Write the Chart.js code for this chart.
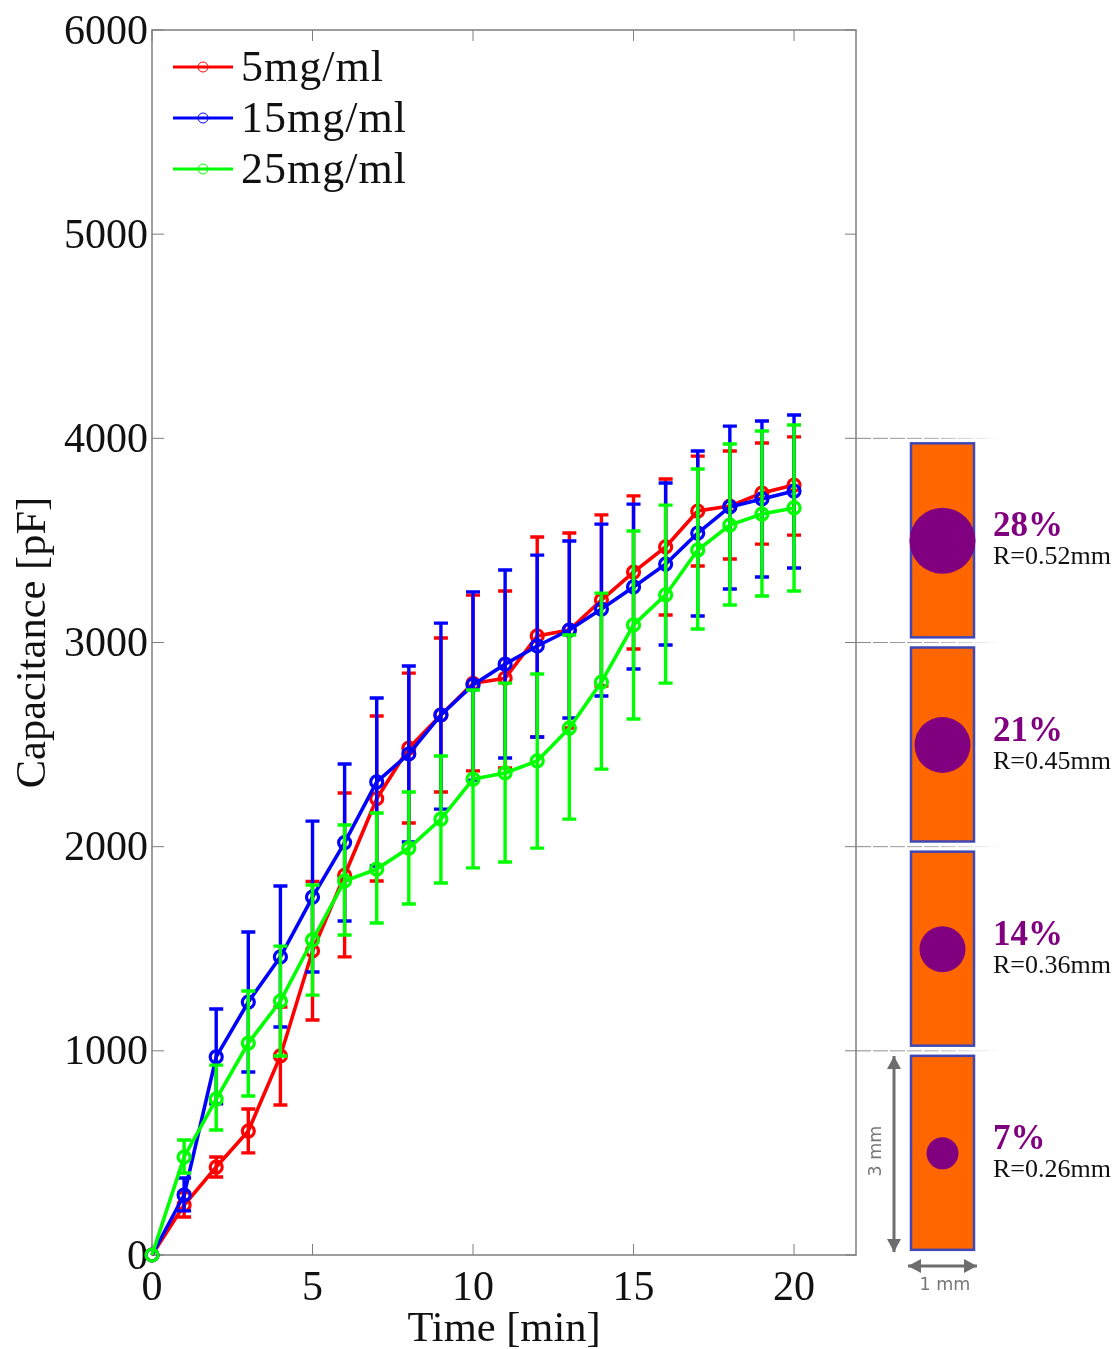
<!DOCTYPE html>
<html lang="en">
<head>
  <meta charset="UTF-8">
  <title>Capacitance vs time</title>
  <script src="https://cdn.jsdelivr.net/npm/chart.js"></script>
  <style>
    html, body { margin: 0; padding: 0; background: #fff; }
    #chart { display: block; }
  </style>
</head>
<body>
  <canvas id="chart" width="1112" height="1349"></canvas>

  <script>
    const times = [0, 1, 2, 3, 4, 5, 6, 7, 8, 9, 10, 11, 12, 13, 14, 15, 16, 17, 18, 19, 20];

    const seriesNames = ['5mg/ml', '15mg/ml', '25mg/ml'];
    const seriesColors = ['#ff0000', '#0000ff', '#00ff00'];

    const red = [0, 245, 431, 607, 975, 1489, 1860, 2235, 2483, 2645, 2800, 2825, 3032, 3061, 3208, 3345, 3468, 3644, 3668, 3732, 3771];
    const redUp = [0, 305, 480, 715, 1215, 1830, 2263, 2640, 2850, 3022, 3232, 3252, 3517, 3536, 3625, 3718, 3801, 3913, 3938, 3977, 4007];
    const redLow = [0, 186, 382, 500, 735, 1151, 1460, 1832, 2116, 2268, 2371, 2386, 2537, 2581, 2787, 2968, 3135, 3375, 3409, 3482, 3526];

    const blue = [0, 294, 970, 1239, 1460, 1753, 2020, 2317, 2454, 2645, 2792, 2894, 2983, 3061, 3164, 3272, 3384, 3536, 3664, 3703, 3742];
    const blueUp = [0, 377, 1205, 1582, 1807, 2125, 2405, 2728, 2885, 3095, 3248, 3355, 3428, 3497, 3580, 3678, 3781, 3938, 4060, 4085, 4114];
    const blueLow = [0, 216, 740, 896, 1117, 1386, 1636, 1905, 2023, 2184, 2326, 2434, 2537, 2630, 2738, 2870, 2988, 3130, 3262, 3321, 3365];

    const green = [0, 480, 764, 1038, 1244, 1543, 1832, 1890, 1993, 2135, 2331, 2361, 2420, 2581, 2806, 3086, 3233, 3453, 3575, 3629, 3659];
    const greenUp = [0, 563, 930, 1293, 1513, 1812, 2106, 2165, 2268, 2444, 2767, 2801, 2846, 3037, 3242, 3546, 3673, 3850, 3972, 4036, 4065];
    const greenLow = [0, 402, 612, 779, 975, 1273, 1567, 1626, 1719, 1822, 1896, 1925, 1993, 2135, 2380, 2625, 2801, 3066, 3184, 3228, 3252];

    const xTicks = [0, 5, 10, 15, 20];
    const yTicks = [0, 1000, 2000, 3000, 4000, 5000, 6000];

    // inset cells, bottom one first: value on the y axis they sit under
    const cellTops = [1000, 2000, 3000, 4000];
    const cellPercents = ['7%', '14%', '21%', '28%'];
    const cellRadii = ['R=0.26mm', 'R=0.36mm', 'R=0.45mm', 'R=0.52mm'];
    const cellDotSizes = [16, 23, 28, 33];

    const upper = [redUp, blueUp, greenUp];
    const lower = [redLow, blueLow, greenLow];
    const serif = "'Liberation Serif', serif";
    const ink = '#111111';
    const frameGray = '#7f7f7f';
    const arrowGray = '#6d6d6d';

    function points(values) {
      return values.map((v, i) => ({ x: times[i], y: v }));
    }

    function makeDataset(values, i) {
      return {
        label: seriesNames[i],
        data: points(values),
        borderColor: seriesColors[i],
        backgroundColor: 'transparent',
        borderWidth: 3.6,
        pointRadius: 6,
        pointBorderWidth: 3.2,
        pointBackgroundColor: 'transparent',
        pointBorderColor: seriesColors[i],
        tension: 0,
        clip: false,
        order: 3 - i
      };
    }

    // Error bars go in right after their own series so green stays on top
    const errorBars = {
      id: 'errorBars',
      afterDatasetDraw(chart, args) {
        const { ctx, scales } = chart;
        const i = args.index;
        ctx.save();
        ctx.strokeStyle = seriesColors[i];
        ctx.lineWidth = 3.4;
        times.forEach((t, k) => {
          if (t === 0) return;
          const x = scales.x.getPixelForValue(t);
          const top = scales.y.getPixelForValue(upper[i][k]);
          const bottom = scales.y.getPixelForValue(lower[i][k]);
          ctx.beginPath();
          ctx.moveTo(x, top);
          ctx.lineTo(x, bottom);
          ctx.moveTo(x - 7, top);
          ctx.lineTo(x + 7, top);
          ctx.moveTo(x - 7, bottom);
          ctx.lineTo(x + 7, bottom);
          ctx.stroke();
        });
        ctx.restore();
      }
    };

    // Box and inward ticks on all four sides
    const frame = {
      id: 'frame',
      beforeDatasetsDraw(chart) {
        const { ctx, chartArea: a, scales } = chart;
        ctx.save();
        ctx.strokeStyle = frameGray;
        ctx.lineWidth = 1.5;
        ctx.strokeRect(a.left, a.top, a.right - a.left, a.bottom - a.top);
        ctx.lineWidth = 1;
        ctx.beginPath();
        xTicks.forEach(t => {
          const x = scales.x.getPixelForValue(t);
          ctx.moveTo(x, a.bottom);
          ctx.lineTo(x, a.bottom - 11);
          ctx.moveTo(x, a.top);
          ctx.lineTo(x, a.top + 11);
        });
        yTicks.forEach(t => {
          const y = scales.y.getPixelForValue(t);
          ctx.moveTo(a.left, y);
          ctx.lineTo(a.left + 12, y);
          ctx.moveTo(a.right, y);
          ctx.lineTo(a.right - 11, y);
        });
        ctx.stroke();
        ctx.restore();
      }
    };

    const legendBox = {
      id: 'legendBox',
      afterDraw(chart) {
        const { ctx } = chart;
        ctx.save();
        ctx.font = '44px ' + serif;
        ctx.letterSpacing = '1px';
        ctx.fillStyle = ink;
        ctx.textAlign = 'left';
        ctx.textBaseline = 'alphabetic';
        seriesNames.forEach((name, i) => {
          const y = 67 + i * 51;
          ctx.strokeStyle = seriesColors[i];
          ctx.lineWidth = 3.2;
          ctx.beginPath();
          ctx.moveTo(173, y);
          ctx.lineTo(233, y);
          ctx.stroke();
          ctx.lineWidth = 1;
          ctx.beginPath();
          ctx.arc(203, y, 5, 0, Math.PI * 2);
          ctx.stroke();
          ctx.fillText(name, 241, y + 14);
        });
        ctx.restore();
      }
    };

    function drawArrow(ctx, x1, y1, x2, y2) {
      const ang = Math.atan2(y2 - y1, x2 - x1);
      ctx.beginPath();
      ctx.moveTo(x1, y1);
      ctx.lineTo(x2, y2);
      ctx.stroke();
      [[x1, y1, ang + Math.PI], [x2, y2, ang]].forEach(([x, y, a]) => {
        ctx.beginPath();
        ctx.moveTo(x, y);
        ctx.lineTo(x - 13 * Math.cos(a) + 7 * Math.sin(a), y - 13 * Math.sin(a) - 7 * Math.cos(a));
        ctx.lineTo(x - 13 * Math.cos(a) - 7 * Math.sin(a), y - 13 * Math.sin(a) + 7 * Math.cos(a));
        ctx.closePath();
        ctx.fill();
      });
    }

    // Side panel with the four cells, lined up with the y axis
    const cellPanel = {
      id: 'cellPanel',
      afterDraw(chart) {
        const { ctx, chartArea: a, scales } = chart;
        ctx.save();
        cellTops.forEach((value, i) => {
          const yLine = scales.y.getPixelForValue(value);

          const fade = ctx.createLinearGradient(a.right, 0, 1000, 0);
          fade.addColorStop(0, '#888888');
          fade.addColorStop(0.55, '#aaaaaa');
          fade.addColorStop(1, '#ffffff');
          ctx.strokeStyle = fade;
          ctx.lineWidth = 1;
          ctx.setLineDash([15, 2]);
          ctx.beginPath();
          ctx.moveTo(a.right, yLine);
          ctx.lineTo(1000, yLine);
          ctx.stroke();
          ctx.setLineDash([]);

          const top = yLine + 5;
          const h = 194;
          ctx.fillStyle = '#ff6600';
          ctx.strokeStyle = '#3f48b4';
          ctx.lineWidth = 2.5;
          ctx.fillRect(911, top, 63, h);
          ctx.strokeRect(911, top, 63, h);

          ctx.fillStyle = '#800080';
          ctx.beginPath();
          ctx.arc(942.5, top + 97.5, cellDotSizes[i], 0, Math.PI * 2);
          ctx.fill();

          ctx.textAlign = 'left';
          ctx.textBaseline = 'alphabetic';
          ctx.font = 'bold 35px ' + serif;
          ctx.fillText(cellPercents[i], 993, top + 93);
          ctx.fillStyle = ink;
          ctx.font = '26px ' + serif;
          ctx.fillText(cellRadii[i], 993, top + 121);
        });

        ctx.strokeStyle = arrowGray;
        ctx.fillStyle = arrowGray;
        ctx.lineWidth = 3;
        drawArrow(ctx, 894, 1056, 894, 1252);
        drawArrow(ctx, 908, 1266, 977, 1266);

        ctx.font = "17.5px 'DejaVu Sans', sans-serif";
        ctx.textAlign = 'center';
        ctx.textBaseline = 'middle';
        ctx.fillStyle = '#777777';
        ctx.fillText('1 mm', 945, 1285);
        ctx.translate(876, 1151);
        ctx.rotate(-Math.PI / 2);
        ctx.fillText('3 mm', 0, 0);
        ctx.restore();
      }
    };

    new Chart(document.getElementById('chart'), {
      type: 'line',
      data: {
        datasets: [red, blue, green].map(makeDataset)
      },
      plugins: [frame, errorBars, legendBox, cellPanel],
      options: {
        responsive: false,
        animation: false,
        layout: { padding: { top: 30, right: 256, left: 0, bottom: 0 } },
        plugins: {
          legend: { display: false },
          tooltip: { enabled: false }
        },
        scales: {
          x: {
            type: 'linear',
            min: 0,
            max: 21.93,
            afterFit(scale) { scale.height = 94; },
            afterBuildTicks(scale) { scale.ticks = xTicks.map(v => ({ value: v })); },
            grid: { drawOnChartArea: false, drawTicks: false },
            border: { display: false },
            ticks: {
              maxRotation: 0,
              padding: 9,
              color: ink,
              font: { family: serif, size: 42 },
              callback: v => String(v)
            },
            title: {
              display: true,
              text: 'Time [min]',
              color: ink,
              font: { family: serif, size: 42.5, lineHeight: 1 },
              padding: { top: 0, bottom: -2 }
            }
          },
          y: {
            min: 0,
            max: 6000,
            afterFit(scale) { scale.width = 152; },
            afterBuildTicks(scale) { scale.ticks = yTicks.map(v => ({ value: v })); },
            grid: { drawOnChartArea: false, drawTicks: false },
            border: { display: false },
            ticks: {
              padding: 4,
              labelOffset: 2.5,
              color: ink,
              font: { family: serif, size: 42 },
              callback: v => String(v)
            },
            title: {
              display: true,
              text: 'Capacitance [pF]',
              color: ink,
              font: { family: serif, size: 42.5 },
              padding: { top: 8, bottom: 0 }
            }
          }
        }
      }
    });
  </script>
</body>
</html>
